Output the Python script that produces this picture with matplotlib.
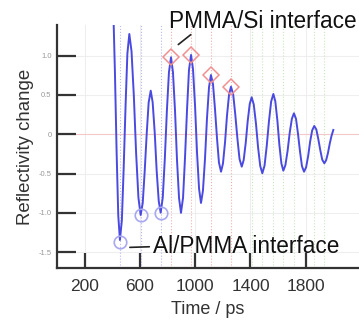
import matplotlib
matplotlib.use("Agg")
import matplotlib.pyplot as plt

plt.rcParams['font.family'] = ['Liberation Sans', 'DejaVu Sans']

# time (ps) and reflectivity change
time_ps = [395, 407, 419, 431, 443,
           455, 469, 482, 496, 509,
           523, 539, 556, 572, 589,
           605, 620, 634, 649, 663,
           678, 692, 707, 721, 736,
           750, 765, 780, 795, 810,
           825, 839, 854, 868, 883,
           897, 912, 926, 941, 955,
           970, 984, 999, 1013, 1028,
           1042, 1056, 1071, 1085, 1100,
           1114, 1129, 1143, 1158, 1172,
           1187, 1201, 1216, 1230, 1245,
           1259, 1275, 1290, 1306, 1321,
           1337, 1351, 1366, 1380, 1395,
           1409, 1424, 1440, 1455, 1471,
           1486, 1502, 1518, 1534, 1550,
           1566, 1580, 1595, 1609, 1624,
           1638, 1653, 1669, 1684, 1700,
           1715, 1730, 1744, 1759, 1773,
           1788, 1803, 1818, 1832, 1847,
           1862, 1877, 1891, 1906, 1920,
           1935, 1948, 1961, 1974, 1987,
           2000]
refl = [1.9, 1.590, 0.780, -0.225, -1.035,
        -1.345, -1.095, -0.441, 0.372, 1.026,
        1.276, 1.056, 0.481, -0.232, -0.807,
        -1.027, -0.876, -0.481, 0.009, 0.404,
        0.555, 0.407, 0.020, -0.462, -0.849,
        -0.997, -0.808, -0.315, 0.298, 0.791,
        0.98, 0.791, 0.297, -0.317, -0.811,
        -1.0, -0.808, -0.307, 0.317, 0.818,
        1.01, 0.830, 0.360, -0.224, -0.694,
        -0.874, -0.719, -0.312, 0.192, 0.599,
        0.754, 0.637, 0.330, -0.052, -0.359,
        -0.476, -0.373, -0.103, 0.233, 0.503,
        0.606, 0.509, 0.255, -0.061, -0.315,
        -0.412, -0.328, -0.107, 0.166, 0.387,
        0.471, 0.379, 0.137, -0.162, -0.404,
        -0.496, -0.400, -0.148, 0.165, 0.417,
        0.513, 0.420, 0.176, -0.126, -0.370,
        -0.463, -0.393, -0.211, 0.015, 0.197,
        0.267, 0.196, 0.011, -0.220, -0.405,
        -0.476, -0.420, -0.275, -0.095, 0.050,
        0.106, 0.061, -0.058, -0.205, -0.324,
        -0.369, -0.33, -0.24, -0.12, -0.02,
        0.055]

# Al/PMMA interface echoes (circles)
al_t = [455, 605, 750]
al_r = [-1.37, -1.03, -1.0]
# PMMA/Si interface echoes (diamonds)
si_t = [825, 970, 1114, 1259]
si_r = [0.98, 1.01, 0.754, 0.606]
# faint dotted marker lines further on
green_t = [1409, 1486, 1566, 1638, 1715, 1862, 1935]

xticks = [200, 600, 1000, 1400, 1800]
yticks = [1.0, 0.5, 0, -0.5, -1.0, -1.5]
ylabels = ['1.0', '0.5', '0', '-0.5', '-1.0', '-1.5']

fig = plt.figure(figsize=(3.59, 3.2), dpi=100)
ax = fig.add_axes([0.159, 0.1616, 0.841, 0.7604])

# light grid
for x in xticks:
    ax.axvline(x, color='#eeeeee', lw=0.8, zorder=0)
for y in yticks:
    ax.axhline(y, color='#eeeeee', lw=0.8, zorder=0)
ax.axhline(0, color='#f4c8c8', lw=0.8, zorder=0)
for x in al_t:
    ax.axvline(x, color='#b8b8f0', lw=0.8, ls=':', zorder=0)
for x in si_t:
    ax.axvline(x, color='#f0b0b0', lw=0.8, ls=':', zorder=0)
for x in green_t:
    ax.axvline(x, color='#c8e8c0', lw=0.8, ls=':', zorder=0)

ax.plot(time_ps, refl, color='#4a4ae0', lw=1.4, zorder=3)
ax.plot(al_t, al_r, 'o', ms=9, mfc='none', mec='#a8a8f0', mew=1.2, zorder=4)
ax.plot(si_t, si_r, 'D', ms=8, mfc='none', mec='#f09090', mew=1.1, zorder=4)

ax.set_xlim(0, 2186)
ax.set_ylim(-1.705, 1.391)

ax.spines['top'].set_visible(False)
ax.spines['right'].set_visible(False)
for s in ['left', 'bottom']:
    ax.spines[s].set_color('#333333')
    ax.spines[s].set_linewidth(1.6)

ax.set_xticks(xticks)
ax.set_xticklabels([str(v) for v in xticks], fontsize=12.5, color='#333333')
ax.set_yticks(yticks)
ax.set_yticklabels(ylabels, fontsize=5.5, color='#999999')
ax.tick_params(axis='x', direction='in', length=11, width=1.6, color='#333333', pad=8)
ax.tick_params(axis='y', direction='in', length=14, width=1.6, color='#333333', pad=4)

ax.set_xlabel('Time / ps', fontsize=13, color='#333333', labelpad=4.5)
ax.set_ylabel('Reflectivity change', fontsize=13.4, color='#333333', labelpad=3)

# annotations
ax.annotate('', xy=(862, 1.12), xytext=(984, 1.29), annotation_clip=False,
            arrowprops=dict(arrowstyle='-', color='#222222', lw=1.2))
ax.text(808, 1.349, 'PMMA/Si interface', fontsize=16.3, va='baseline', ha='left',
        color='#111111', clip_on=False)
ax.annotate('', xy=(507, -1.44), xytext=(688, -1.43), annotation_clip=False,
            arrowprops=dict(arrowstyle='-', color='#222222', lw=1.2))
ax.text(693, -1.506, 'Al/PMMA interface', fontsize=16.3, va='baseline', ha='left',
        color='#111111', clip_on=False)

fig.savefig('out.png', dpi=100)
